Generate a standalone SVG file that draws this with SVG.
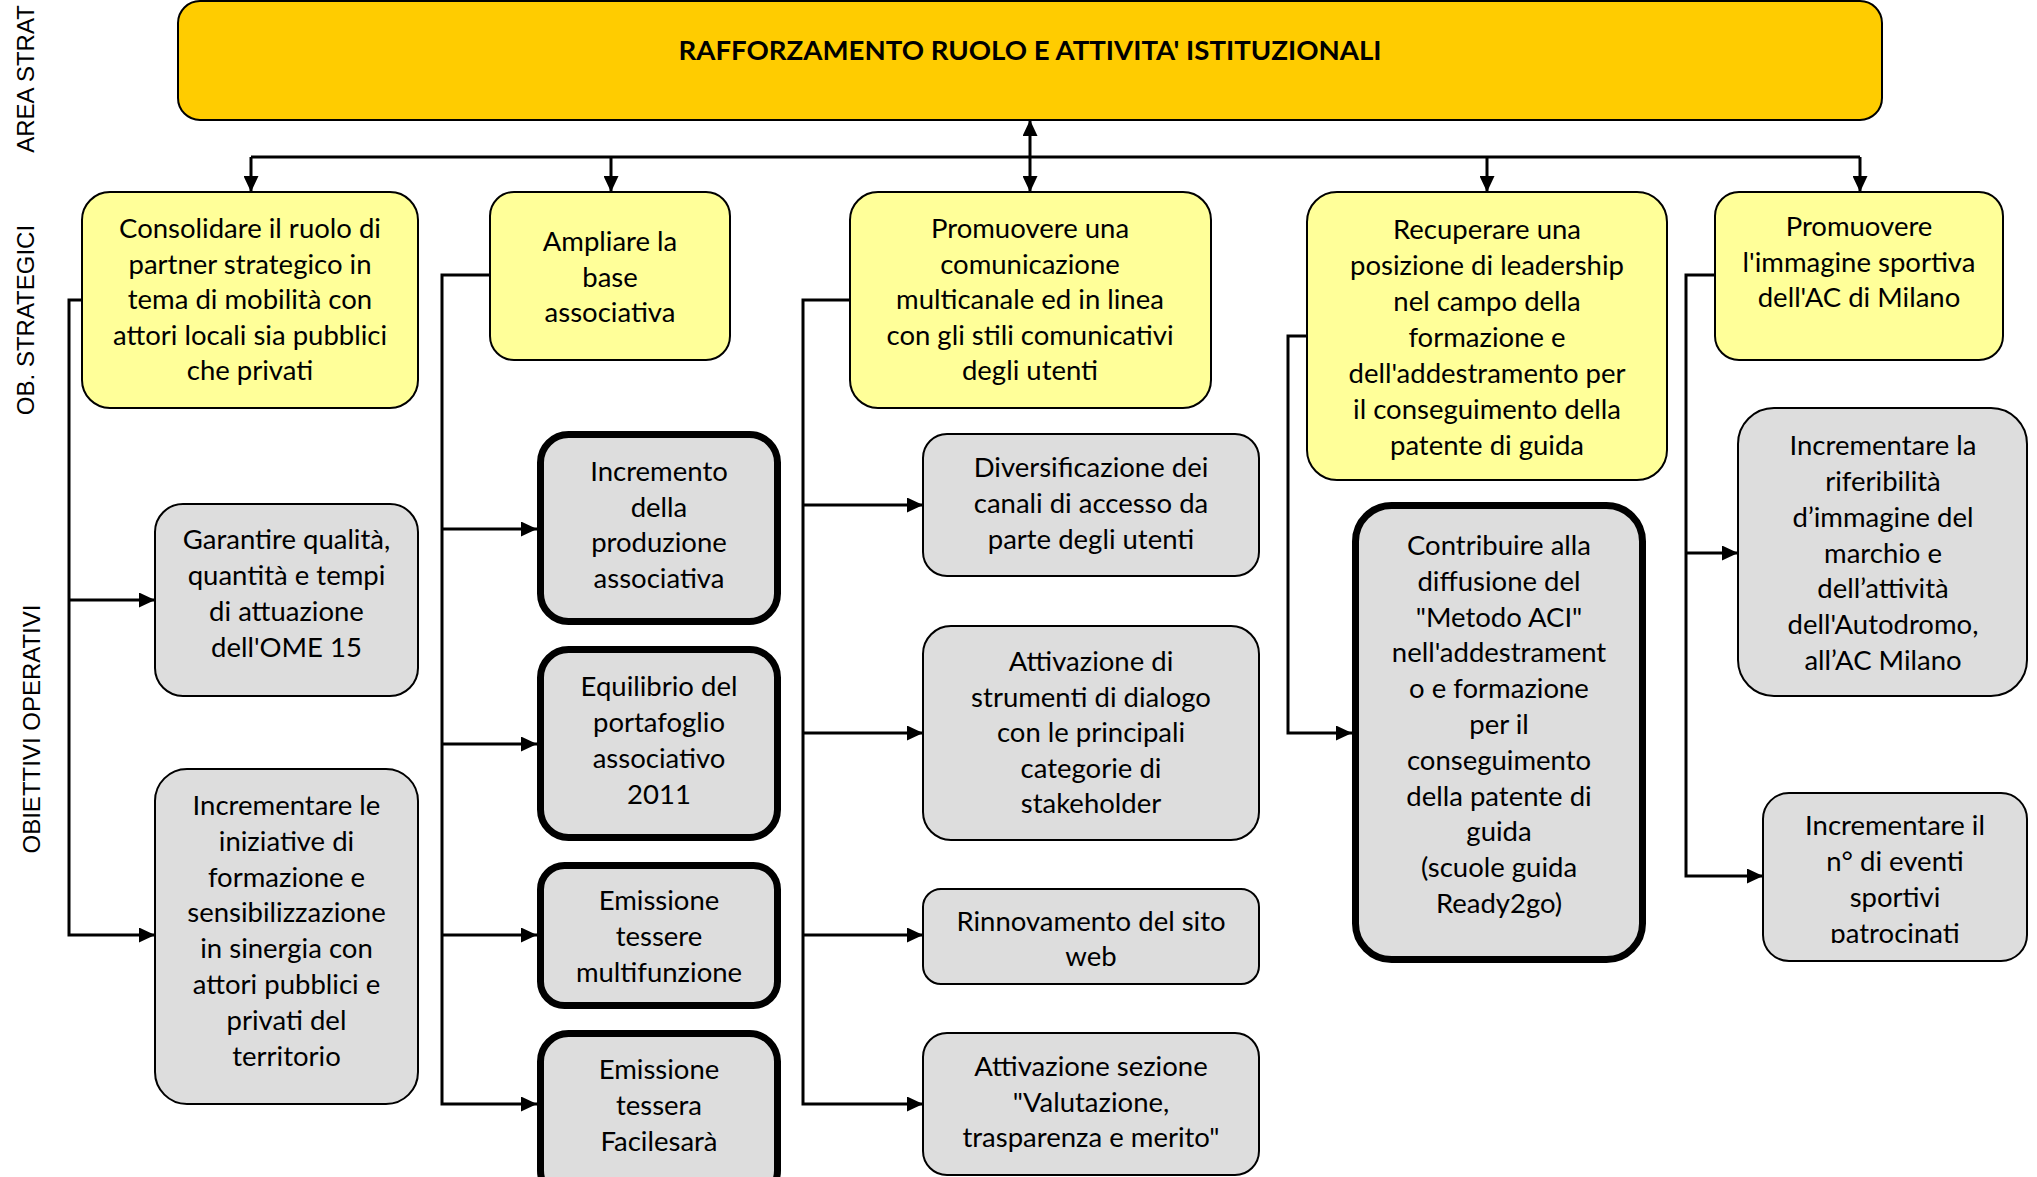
<svg xmlns="http://www.w3.org/2000/svg" width="2037" height="1177" viewBox="0 0 2037 1177">
  <style>
    .area { fill: #FFCC00; stroke: #000; stroke-width: 2; }
    .strat { fill: #FFFF99; stroke: #000; stroke-width: 2; }
    .op { fill: #DDDDDD; stroke: #000; stroke-width: 2; }
    .opk { fill: #DDDDDD; stroke: #000; stroke-width: 7; }
    .t { font-family: Lato, "Open Sans", "Liberation Sans", sans-serif; font-size: 27.5px; fill: #000; text-anchor: middle; }
    .title { font-family: Lato, "Liberation Sans", sans-serif; font-weight: bold; font-size: 27.5px; fill: #000; text-anchor: middle; }
    .side { font-family: "Liberation Sans", Arial, sans-serif; font-size: 24px; fill: #000; text-anchor: middle; }
    .ln { fill: none; stroke: #000; stroke-width: 3; }
  </style>
  <defs>
    <marker id="arr" markerUnits="userSpaceOnUse" viewBox="0 0 16 15" refX="16" refY="7.5" markerWidth="16" markerHeight="15" orient="auto-start-reverse">
      <path d="M0,0 L16,7.5 L0,15 z" fill="#000"/>
    </marker>
    <clipPath id="clipEventi">
      <rect x="1763" y="780" width="264" height="163"/>
    </clipPath>
  </defs>

  <rect width="2037" height="1177" fill="#fff"/>

  <!-- row labels -->
  <g id="labels">
    <text class="side" transform="translate(34,79) rotate(-90)">AREA STRAT</text>
    <text class="side" transform="translate(34,320) rotate(-90)">OB. STRATEGICI</text>
    <text class="side" transform="translate(40,729) rotate(-90)">OBIETTIVI OPERATIVI</text>
  </g>

  <!-- connectors -->
  <g id="connectors" class="ln">
    <path d="M251,157 H1860"/>
    <path d="M251,157 V192" marker-end="url(#arr)"/>
    <path d="M611,157 V192" marker-end="url(#arr)"/>
    <path d="M1487,157 V192" marker-end="url(#arr)"/>
    <path d="M1860,157 V192" marker-end="url(#arr)"/>
    <path d="M1030,120 V192" marker-start="url(#arr)" marker-end="url(#arr)"/>

    <path d="M82,300 H69 V935 H155" marker-end="url(#arr)"/>
    <path d="M69,600 H155" marker-end="url(#arr)"/>

    <path d="M490,275 H442 V1104 H537" marker-end="url(#arr)"/>
    <path d="M442,529 H537" marker-end="url(#arr)"/>
    <path d="M442,744 H537" marker-end="url(#arr)"/>
    <path d="M442,935 H537" marker-end="url(#arr)"/>

    <path d="M850,300 H803 V1104 H923" marker-end="url(#arr)"/>
    <path d="M803,505 H923" marker-end="url(#arr)"/>
    <path d="M803,733 H923" marker-end="url(#arr)"/>
    <path d="M803,935 H923" marker-end="url(#arr)"/>

    <path d="M1307,336 H1288 V733 H1352" marker-end="url(#arr)"/>

    <path d="M1715,275 H1686 V876 H1763" marker-end="url(#arr)"/>
    <path d="M1686,553 H1738" marker-end="url(#arr)"/>
  </g>

  <!-- strategic area -->
  <g id="area">
    <rect class="area" x="178" y="1" width="1704" height="119" rx="22"/>
    <text class="title" x="1030" y="60" textLength="703" lengthAdjust="spacingAndGlyphs">RAFFORZAMENTO RUOLO E ATTIVITA' ISTITUZIONALI</text>
  </g>

  <!-- strategic objectives -->
  <g id="ob-consolidare">
    <rect class="strat" x="82" y="192" width="336" height="216" rx="28"/>
    <text class="t"><tspan x="250" y="238">Consolidare il ruolo di</tspan><tspan x="250" y="273.5">partner strategico in</tspan><tspan x="250" y="309">tema di mobilità con</tspan><tspan x="250" y="344.5">attori locali sia pubblici</tspan><tspan x="250" y="380">che privati</tspan></text>
  </g>
  <g id="ob-ampliare">
    <rect class="strat" x="490" y="192" width="240" height="168" rx="24"/>
    <text class="t"><tspan x="610" y="251">Ampliare la</tspan><tspan x="610" y="287">base</tspan><tspan x="610" y="322">associativa</tspan></text>
  </g>
  <g id="ob-comunicazione">
    <rect class="strat" x="850" y="192" width="361" height="216" rx="28"/>
    <text class="t"><tspan x="1030" y="238">Promuovere una</tspan><tspan x="1030" y="273.5">comunicazione</tspan><tspan x="1030" y="309">multicanale ed in linea</tspan><tspan x="1030" y="344.5">con gli stili comunicativi</tspan><tspan x="1030" y="380">degli utenti</tspan></text>
  </g>
  <g id="ob-leadership">
    <rect class="strat" x="1307" y="192" width="360" height="288" rx="30"/>
    <text class="t"><tspan x="1487" y="239">Recuperare una</tspan><tspan x="1487" y="275">posizione di leadership</tspan><tspan x="1487" y="311">nel campo della</tspan><tspan x="1487" y="347">formazione e</tspan><tspan x="1487" y="383">dell'addestramento per</tspan><tspan x="1487" y="419">il conseguimento della</tspan><tspan x="1487" y="455">patente di guida</tspan></text>
  </g>
  <g id="ob-immagine">
    <rect class="strat" x="1715" y="192" width="288" height="168" rx="24"/>
    <text class="t"><tspan x="1859" y="236">Promuovere</tspan><tspan x="1859" y="271.5">l'immagine sportiva</tspan><tspan x="1859" y="307">dell'AC di Milano</tspan></text>
  </g>

  <!-- operational objectives -->
  <g id="op-ome">
    <rect class="op" x="155" y="504" width="263" height="192" rx="28"/>
    <text class="t"><tspan x="286.5" y="549">Garantire qualità,</tspan><tspan x="286.5" y="585">quantità e tempi</tspan><tspan x="286.5" y="621">di attuazione</tspan><tspan x="286.5" y="657">dell'OME 15</tspan></text>
  </g>
  <g id="op-iniziative">
    <rect class="op" x="155" y="769" width="263" height="335" rx="32"/>
    <text class="t"><tspan x="286.5" y="815">Incrementare le</tspan><tspan x="286.5" y="851">iniziative di</tspan><tspan x="286.5" y="886.5">formazione e</tspan><tspan x="286.5" y="922">sensibilizzazione</tspan><tspan x="286.5" y="958">in sinergia con</tspan><tspan x="286.5" y="994">attori pubblici e</tspan><tspan x="286.5" y="1030">privati del</tspan><tspan x="286.5" y="1065.5">territorio</tspan></text>
  </g>
  <g id="op-produzione">
    <rect class="opk" x="540.5" y="434.5" width="237" height="187" rx="28"/>
    <text class="t"><tspan x="659" y="481">Incremento</tspan><tspan x="659" y="517">della</tspan><tspan x="659" y="552">produzione</tspan><tspan x="659" y="588">associativa</tspan></text>
  </g>
  <g id="op-portafoglio">
    <rect class="opk" x="540.5" y="649.5" width="237" height="188" rx="28"/>
    <text class="t"><tspan x="659" y="696">Equilibrio del</tspan><tspan x="659" y="732">portafoglio</tspan><tspan x="659" y="768">associativo</tspan><tspan x="659" y="804">2011</tspan></text>
  </g>
  <g id="op-multifunzione">
    <rect class="opk" x="540.5" y="865.5" width="237" height="140" rx="24"/>
    <text class="t"><tspan x="659" y="910">Emissione</tspan><tspan x="659" y="946">tessere</tspan><tspan x="659" y="982">multifunzione</tspan></text>
  </g>
  <g id="op-facilesara">
    <rect class="opk" x="540.5" y="1033.5" width="237" height="165" rx="28"/>
    <text class="t"><tspan x="659" y="1079">Emissione</tspan><tspan x="659" y="1115">tessera</tspan><tspan x="659" y="1150.5">Facilesarà</tspan></text>
  </g>
  <g id="op-canali">
    <rect class="op" x="923" y="434" width="336" height="142" rx="24"/>
    <text class="t"><tspan x="1091" y="477">Diversificazione dei</tspan><tspan x="1091" y="513">canali di accesso da</tspan><tspan x="1091" y="549">parte degli utenti</tspan></text>
  </g>
  <g id="op-dialogo">
    <rect class="op" x="923" y="626" width="336" height="214" rx="28"/>
    <text class="t"><tspan x="1091" y="671">Attivazione di</tspan><tspan x="1091" y="706.5">strumenti di dialogo</tspan><tspan x="1091" y="742">con le principali</tspan><tspan x="1091" y="777.5">categorie di</tspan><tspan x="1091" y="813">stakeholder</tspan></text>
  </g>
  <g id="op-sito">
    <rect class="op" x="923" y="889" width="336" height="95" rx="18"/>
    <text class="t"><tspan x="1091" y="930.5">Rinnovamento del sito</tspan><tspan x="1091" y="966">web</tspan></text>
  </g>
  <g id="op-valutazione">
    <rect class="op" x="923" y="1033" width="336" height="142" rx="24"/>
    <text class="t"><tspan x="1091" y="1076">Attivazione sezione</tspan><tspan x="1091" y="1111.5">"Valutazione,</tspan><tspan x="1091" y="1147">trasparenza e merito"</tspan></text>
  </g>
  <g id="op-metodo-aci">
    <rect class="opk" x="1355.5" y="505.5" width="287" height="454" rx="36"/>
    <text class="t"><tspan x="1499" y="555">Contribuire alla</tspan><tspan x="1499" y="591">diffusione del</tspan><tspan x="1499" y="627">"Metodo ACI"</tspan><tspan x="1499" y="662">nell'addestrament</tspan><tspan x="1499" y="698">o e formazione</tspan><tspan x="1499" y="734">per il</tspan><tspan x="1499" y="770">conseguimento</tspan><tspan x="1499" y="806">della patente di</tspan><tspan x="1499" y="841">guida</tspan><tspan x="1499" y="877">(scuole guida</tspan><tspan x="1499" y="913">Ready2go)</tspan></text>
  </g>
  <g id="op-marchio">
    <rect class="op" x="1738" y="408" width="289" height="288" rx="36"/>
    <text class="t"><tspan x="1883" y="455">Incrementare la</tspan><tspan x="1883" y="491">riferibilità</tspan><tspan x="1883" y="527">d’immagine del</tspan><tspan x="1883" y="563">marchio e</tspan><tspan x="1883" y="598">dell’attività</tspan><tspan x="1883" y="634">dell'Autodromo,</tspan><tspan x="1883" y="670">all’AC Milano</tspan></text>
  </g>
  <g id="op-eventi">
    <rect class="op" x="1763" y="793" width="264" height="168" rx="26"/>
    <text class="t" clip-path="url(#clipEventi)"><tspan x="1895" y="835">Incrementare il</tspan><tspan x="1895" y="871">n° di eventi</tspan><tspan x="1895" y="907">sportivi</tspan><tspan x="1895" y="943">patrocinati</tspan></text>
  </g>
</svg>
